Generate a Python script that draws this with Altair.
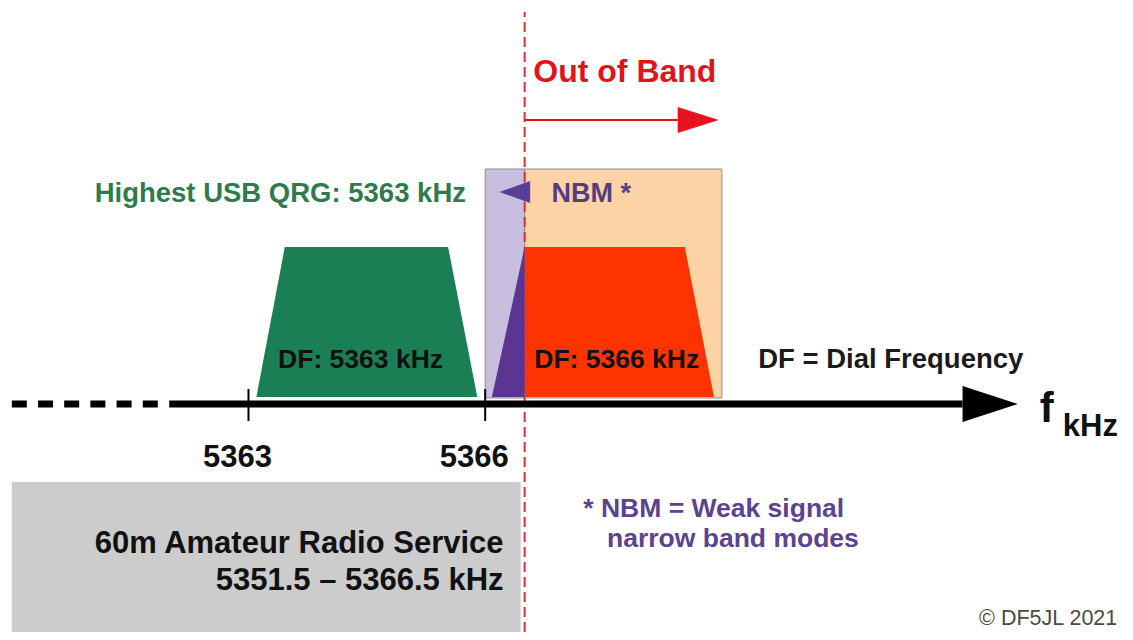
import altair as alt
import pandas as pd

# ---------------- data (frequencies in kHz, levels in amplitude units) -------------
tick_values = [5363, 5366]
tick_labels = ["5363", "5366"]
band_edge = 5366.5            # upper edge of the 60 m allocation

# USB signal passband on 5363 kHz dial: [base lo, top lo, top hi, base hi]
usb_5363_x = [5363.1, 5363.46, 5365.53, 5365.9]
# USB signal on 5366 kHz dial (in-band part / out-of-band part)
usb_5366_in_x = [5366.085, 5366.5]
usb_5366_out_x = [5366.5, 5368.53, 5368.9]
signal_floor = 7
signal_peak = 157

nbm_box_x = [5366.0, 5366.5]
oob_box_x = [5366.5, 5369.0]
box_y = [6, 235]

band_box_x = [5360.0, 5366.45]
band_box_y = [-228, -78]

axis_dash_x = [5360.0, 5362.0]
axis_solid_x = [5362.0, 5372.05]
axis_head_x = [5372.05, 5372.75]

oob_arrow_x = [5366.5, 5368.44]
oob_head_x = [5368.44, 5368.96]
oob_arrow_y = 284
nbm_arrow_x = [5366.18, 5366.57]
nbm_arrow_y = 212

texts = [
    # text, x (kHz), y (level), align, size, weight, colour
    ("Out of Band", 5366.61, 322, "left", 32, "bold", "#e3131c"),
    ("Highest USB QRG: 5363 kHz", 5365.757, 202, "right", 27.5, "bold", "#2f7b4c"),
    ("NBM *", 5366.84, 202, "left", 27, "bold", "#553d80"),
    ("DF: 5363 kHz", 5364.42, 36, "center", 26.5, "bold", "#111111"),
    ("DF: 5366 kHz", 5367.667, 36, "center", 26.5, "bold", "#111111"),
    ("DF = Dial Frequency", 5371.14, 36, "center", 27.5, "bold", "#1a1a1a"),
    ("f", 5373.03, -18, "left", 42, "bold", "#111111"),
    ("kHz", 5373.32, -32, "left", 31, "bold", "#111111"),
    ("60m Amateur Radio Service", 5366.233, -149, "right", 31, "bold", "#111111"),
    ("5351.5 – 5366.5 kHz", 5366.233, -186, "right", 31, "bold", "#111111"),
    ("* NBM = Weak signal", 5367.243, -113, "left", 26.5, "bold", "#5b4391"),
    ("narrow band modes", 5367.544, -143, "left", 26.5, "bold", "#5b4391"),
    ("© DF5JL 2021", 5374.011, -221, "right", 21.5, "normal", "#4a4a4a"),
]

# ---------------- scales ----------------
xs = alt.Scale(domain=[5359.952, 5374.109], nice=False, zero=False)
ys = alt.Scale(domain=[-228, 396], nice=False, zero=False)
FONT = "Liberation Sans"


def X(f="x"):
    return alt.X(f"{f}:Q", scale=xs, axis=None)


def Y(f="y"):
    return alt.Y(f"{f}:Q", scale=ys, axis=None)


def rect(xx, yy, color, stroke=None):
    df = pd.DataFrame({"x": [xx[0]], "x2": [xx[1]], "y": [yy[0]], "y2": [yy[1]]})
    kw = dict(color=color)
    if stroke:
        kw.update(stroke=stroke, strokeWidth=1)
    return alt.Chart(df).mark_rect(**kw).encode(
        x=X(), x2="x2:Q", y=Y(), y2="y2:Q")


def shape(xx, top, bottom, color):
    df = pd.DataFrame({"x": xx, "y": top, "y2": bottom})
    return alt.Chart(df).mark_area(color=color, interpolate="linear").encode(
        x=X(), y=Y(), y2="y2:Q")


def hrule(xx, y, color, width, dash=None):
    df = pd.DataFrame({"x": [xx[0]], "x2": [xx[1]], "y": [y]})
    kw = dict(color=color, strokeWidth=width, strokeCap="butt")
    if dash:
        kw["strokeDash"] = dash
    return alt.Chart(df).mark_rule(**kw).encode(x=X(), x2="x2:Q", y=Y())


def vrule(x, yy, color, width, dash=None):
    df = pd.DataFrame({"x": x, "y": [yy[0]] * len(x), "y2": [yy[1]] * len(x)})
    kw = dict(color=color, strokeWidth=width, strokeCap="butt")
    if dash:
        kw["strokeDash"] = dash
    return alt.Chart(df).mark_rule(**kw).encode(x=X(), y=Y(), y2="y2:Q")


layers = []
# grey allocation box
layers.append(rect(band_box_x, band_box_y, "#cccccc"))
# NBM / out-of-band boxes
layers.append(rect(nbm_box_x, box_y, "#c8bfe0", stroke="#8c8c8c"))
layers.append(rect(oob_box_x, box_y, "#fcd3a5", stroke="#8c8c8c"))
# band edge (red dashed)
layers.append(vrule([band_edge], [-228, 392], "#d8303a", 2, dash=[10, 5]))
# signals
layers.append(shape(usb_5363_x, [signal_floor, signal_peak, signal_peak, signal_floor],
                    [signal_floor] * 4, "#1b7f56"))
layers.append(shape(usb_5366_out_x, [signal_peak, signal_peak, signal_floor],
                    [signal_floor] * 3, "#ff3300"))
layers.append(shape(usb_5366_in_x, [signal_floor, signal_peak],
                    [signal_floor] * 2, "#5c3592"))
# out-of-band arrow
layers.append(hrule(oob_arrow_x, oob_arrow_y, "#e8121c", 2))
layers.append(shape(oob_head_x, [oob_arrow_y + 13, oob_arrow_y],
                    [oob_arrow_y - 13, oob_arrow_y], "#e8121c"))
# NBM arrow (points left)
layers.append(shape(nbm_arrow_x, [nbm_arrow_y, nbm_arrow_y + 11],
                    [nbm_arrow_y, nbm_arrow_y - 11], "#5c3d96"))
# frequency axis
layers.append(hrule(axis_dash_x, 0, "#000000", 7, dash=[15, 11.2]))
layers.append(hrule(axis_solid_x, 0, "#000000", 7))
layers.append(shape(axis_head_x, [18, 0], [-18, 0], "#000000"))
layers.append(vrule(tick_values, [-17, 15], "#000000", 2))
# tick labels
tick_df = pd.DataFrame({"x": tick_values, "y": [-63] * 2, "t": tick_labels})
layers.append(alt.Chart(tick_df).mark_text(
    font=FONT, fontSize=31, fontWeight="bold", color="#111111",
    align="center", baseline="alphabetic", dx=-11).encode(x=X(), y=Y(), text="t:N"))

# annotation texts
for t, x, y, al, size, w, col in texts:
    df = pd.DataFrame({"x": [x], "y": [y], "t": [t]})
    layers.append(alt.Chart(df).mark_text(
        font=FONT, fontSize=size, fontWeight=w, color=col,
        align=al, baseline="alphabetic").encode(x=X(), y=Y(), text="t:N"))

chart = alt.layer(*layers).properties(
    width=1117, height=624, padding=0,
    autosize=alt.AutoSizeParams(type="none"),
    background="white",
).configure_view(stroke=None)

chart.save("out.html", embed_options={"renderer": "svg", "actions": False})
